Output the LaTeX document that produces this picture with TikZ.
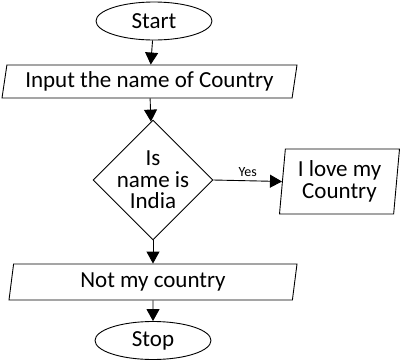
\documentclass[tikz,border=0pt]{standalone}
\usepackage{fontspec}
\setmainfont{Carlito}
\usetikzlibrary{shapes.geometric,arrows.meta}

\begin{document}
\begin{tikzpicture}[x=1pt,y=-1pt,>={Triangle[length=12pt,width=13pt]},line width=0.9pt]
\tikzset{term/.style={draw,ellipse,minimum width=116pt,minimum height=38pt,inner sep=0pt,font=\fontsize{23}{22}\selectfont}}
\tikzset{io/.style={draw,trapezium,trapezium left angle=76,trapezium right angle=104,trapezium stretches body,inner sep=0pt,align=center,font=\fontsize{23}{22}\selectfont}}
\tikzset{decide/.style={draw,diamond,minimum width=120pt,minimum height=120pt,inner sep=-4pt,align=center,font=\fontsize{23}{21.5}\selectfont}}
\useasboundingbox (0,0) rectangle (400,360);
\node[term] (start) at (154,21) {Start};
\node[io,minimum width=295pt,minimum height=33pt] (input) at (149.5,81.5) {Input the name of Country};
\node[decide] (check) at (153,180) {Is\\name is\\India};
\node[io,minimum width=120pt,minimum height=65pt,trapezium left angle=82,trapezium right angle=98] (love) at (339.5,181.5) {I love my\\Country};
\node[io,minimum width=288pt,minimum height=36pt] (notmine) at (153,282) {Not my country};
\node[term] (stop) at (153,340.5) {Stop};
\draw[->] (start) -- (input);
\draw[->] (input) -- (check);
\draw[->] (check.east) -- node[above,font=\fontsize{14}{14}\selectfont] {Yes} (love.west);
\draw[->] (check) -- (notmine);
\draw[->] (notmine) -- (stop);
\end{tikzpicture}
\end{document}
